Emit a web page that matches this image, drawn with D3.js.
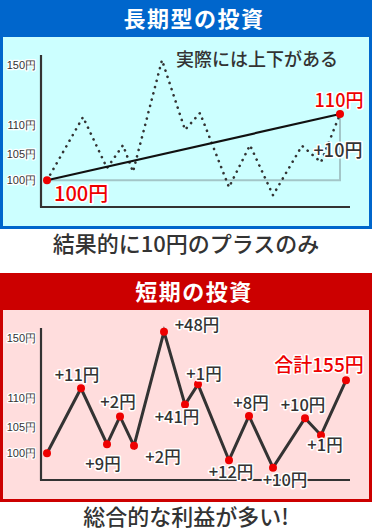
<!DOCTYPE html>
<html><head><meta charset="utf-8">
<script src="https://cdn.jsdelivr.net/npm/d3@7"></script>
<style>
html,body{margin:0;padding:0;background:#fff;}
svg{display:block;font-family:"Noto Sans CJK JP","Noto Sans",sans-serif;}
</style></head>
<body>
<svg id="chart" width="372" height="530"></svg>
<script>
// ---- data ----
const yTicks = [100, 105, 110, 150];
const yTickLabels = ["100円", "105円", "110円", "150円"];

// long-term panel: actual (dotted) price path
const longDays   = [0, 36, 60, 76, 86, 115, 138, 153, 182, 203, 226, 255, 274, 293];
const longPrices = [100, 115.5, 102.3, 106.5, 101.6, 153.5, 109.2, 118.2, 98.7, 106.5, 97.2, 106.4, 103.4, 117.5];
const longStartLabel = "100円";
const longEndLabel = "110円";
const longGainLabel = "+10円";
const longNote = "実際には上下がある";

// short-term panel
const shortDays   = [0, 34, 60, 73, 87, 117, 138, 151, 182, 202, 226, 258, 274, 299];
const shortPrices = [100, 116.7, 101.7, 106.8, 101.4, 154.4, 108.9, 119.3, 98.7, 106.9, 97.3, 106.5, 103.4, 122];
const shortGains  = ["+11円", "+9円", "+2円", "+2円", "+48円", "+41円", "+1円", "+12円", "+8円", "+10円", "+10円", "+1円"];
const shortTotal  = "合計155円";

const titles   = ["長期型の投資", "短期の投資"];
const captions = ["結果的に10円のプラスのみ", "総合的な利益が多い!"];

// ---- layout ----
const svg = d3.select("#chart");
const panelH = 229, panelOffset = 273;
const x = d3.scaleLinear().domain([0, 300]).range([47, 347]);
const y = d3.scaleLinear().domain(yTicks).range([180.3, 153.7, 125.3, 65.3]);

function halo(sel, w) {
  return sel.attr("stroke", "#fff").attr("stroke-width", w).attr("stroke-linejoin", "round").attr("paint-order", "stroke");
}

function panel(i, frameColor, bgColor) {
  const g = svg.append("g").attr("transform", `translate(0,${i * panelOffset})`);
  g.append("rect").attr("x", 0).attr("y", 0).attr("width", 372).attr("height", panelH).attr("fill", frameColor);
  g.append("rect").attr("x", 3).attr("y", 37).attr("width", 366).attr("height", 189).attr("fill", bgColor);
  g.append("text").attr("x", 194).attr("y", 27).attr("text-anchor", "middle")
    .attr("fill", "#fff").attr("font-size", 22).attr("font-weight", "bold").attr("letter-spacing", 1.5)
    .text(titles[i]);
  g.append("text").attr("x", 186).attr("y", 252).attr("text-anchor", "middle")
    .attr("fill", "#333").attr("font-size", 22).attr("font-weight", 500).text(captions[i]);

  // axes
  g.append("line").attr("x1", 41).attr("x2", 41).attr("y1", 55).attr("y2", 207.5).attr("stroke", "#333").attr("stroke-width", 2.2);
  g.append("line").attr("x1", 40).attr("x2", 350).attr("y1", 207).attr("y2", 207).attr("stroke", "#333").attr("stroke-width", 2.2);
  const ax = g.append("g").attr("transform", "translate(36,0)")
    .call(d3.axisLeft(y).tickValues(yTicks).tickSize(0).tickPadding(0).tickFormat((d, k) => yTickLabels[k]));
  ax.select(".domain").remove();
  ax.selectAll("text").attr("font-size", 11).attr("fill", "#333").attr("font-family", "inherit")
    .call(halo, 2.5);
  return g;
}

// ---- long-term panel ----
const g1 = panel(0, "#0066cc", "#ccffff");
const n1 = longDays.length - 1;
g1.append("path")
  .attr("d", d3.line()([[x(longDays[0]), y(longPrices[0])], [x(longDays[n1]), y(longPrices[0])], [x(longDays[n1]), y(longPrices[n1])]]))
  .attr("fill", "none").attr("stroke", "#a3c6c8").attr("stroke-width", 2);
g1.append("path")
  .datum(longDays.map((d, k) => [d, longPrices[k]]))
  .attr("d", d3.line().x(d => x(d[0])).y(d => y(d[1])))
  .attr("fill", "none").attr("stroke", "#333").attr("stroke-width", 2.6)
  .attr("stroke-linecap", "round").attr("stroke-dasharray", "0.1 6.4");
g1.append("line")
  .attr("x1", x(longDays[0])).attr("y1", y(longPrices[0]))
  .attr("x2", x(longDays[n1])).attr("y2", y(longPrices[n1]))
  .attr("stroke", "#111").attr("stroke-width", 2.2);
g1.selectAll("circle.end").data([0, n1]).join("circle")
  .attr("cx", k => x(longDays[k])).attr("cy", k => y(longPrices[k])).attr("r", 4).attr("fill", "#ee0000");
g1.append("text").attr("x", 176).attr("y", 66).attr("font-size", 18).attr("font-weight", 500).attr("fill", "#333").text(longNote);
g1.append("text").attr("x", x(longDays[0]) + 7).attr("y", y(longPrices[0]) + 21)
  .attr("font-size", 20).attr("font-weight", 500).attr("fill", "#ee0000").call(halo, 3).text(longStartLabel);
g1.append("text").attr("x", x(longDays[n1]) - 1).attr("y", y(longPrices[n1]) - 7).attr("text-anchor", "middle")
  .attr("font-size", 18).attr("font-weight", 500).attr("fill", "#ee0000").call(halo, 3).text(longEndLabel);
g1.append("text").attr("x", x(longDays[n1]) - 2).attr("y", (y(longPrices[0]) + y(longPrices[n1])) / 2 + 10).attr("text-anchor", "middle")
  .attr("font-size", 18).attr("font-weight", 500).attr("fill", "#333").call(halo, 3).text(longGainLabel);

// ---- short-term panel ----
const g2 = panel(1, "#cc0000", "#ffdddd");
const pts = shortDays.map((d, k) => [x(d), y(shortPrices[k])]);
g2.append("path").attr("d", d3.line()(pts)).attr("fill", "none")
  .attr("stroke", "#333").attr("stroke-width", 3).attr("stroke-linejoin", "miter");
g2.selectAll("circle").data(pts).join("circle")
  .attr("cx", d => d[0]).attr("cy", d => d[1]).attr("r", 4).attr("fill", "#ee0000");
// label offsets (layout only) from each point to its label centre
const labelOffsets = [[-4, -13], [-4, 20], [-2, -14], [29, 11], [33, -7], [-8, 12], [6, -10], [2, 12], [2, -13], [12, 12], [-2, -13], [4, 10]];
g2.selectAll("text.gain").data(shortGains).join("text").attr("class", "gain")
  .attr("x", (t, k) => pts[k + 1][0] + labelOffsets[k][0])
  .attr("y", (t, k) => pts[k + 1][1] + labelOffsets[k][1] + 6)
  .attr("text-anchor", "middle").attr("font-size", 16.5).attr("font-weight", 500).attr("fill", "#333")
  .call(halo, 3).text(t => t);
const last = pts[pts.length - 1];
g2.append("text").attr("x", last[0] - 27).attr("y", last[1] - 8).attr("text-anchor", "middle")
  .attr("font-size", 19).attr("font-weight", 500).attr("fill", "#ee0000").call(halo, 3).text(shortTotal);
</script>
</body></html>
